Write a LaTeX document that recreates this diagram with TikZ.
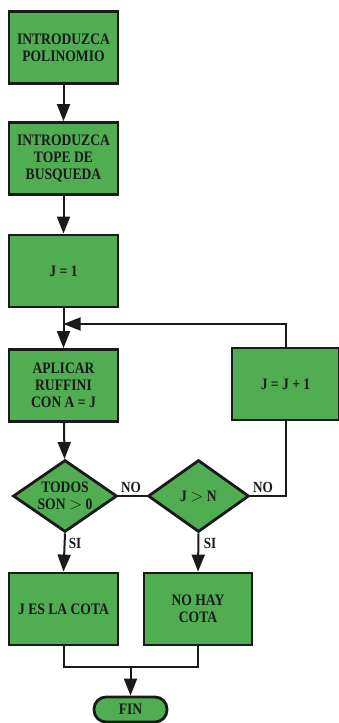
\documentclass[tikz,border=0pt]{standalone}
\usepackage{fontspec}
\setmainfont[FakeStretch=0.85]{Liberation Serif}
\usetikzlibrary{shapes.geometric,arrows.meta}
\definecolor{boxgreen}{RGB}{80,173,82}
\definecolor{ink}{RGB}{26,26,26}
\tikzset{
  stepbox/.style={draw=ink, line width=2.8pt, fill=boxgreen, rectangle,
    inner sep=0pt, minimum width=#1, minimum height=72pt, align=center,
    text=ink, font=\bfseries\fontsize{16}{17}\selectfont},
  stepbox/.default=109pt,
  testbox/.style={draw=ink, line width=2.8pt, fill=boxgreen, diamond,
    shape aspect=1.45, inner sep=0pt, minimum width=#1, minimum height=72pt,
    align=center, text=ink, font=\bfseries\fontsize{16}{17.5}\selectfont},
  endbox/.style={draw=ink, line width=2.8pt, fill=boxgreen, rectangle,
    rounded corners=12pt, inner sep=0pt, minimum width=73pt, minimum height=25pt,
    text=ink, font=\bfseries\fontsize{16}{17}\selectfont},
  link/.style={draw=ink, line width=2pt},
  arr/.style={link, -{Triangle[length=17pt,width=13pt]}},
  tag/.style={text=ink, inner sep=0pt, font=\bfseries\fontsize{15.5}{16}\selectfont}
}
\begin{document}
\begin{tikzpicture}[x=1pt,y=-1pt]
\useasboundingbox (0,0) rectangle (338,723);

% main column
\node[stepbox] (b1) at (63.5,47.5) {INTRODUZCA\\POLINOMIO};
\node[stepbox] (b2) at (63.5,158.5) {INTRODUZCA\\TOPE DE\\BUSQUEDA};
\node[stepbox] (b3) at (63.5,271) {J = 1};
\node[stepbox] (b4) at (63.5,385.5) {APLICAR\\RUFFINI\\CON A = J};
\node[stepbox=107pt] (b5) at (285.5,384) {J = J + 1};

% decisions
\node[testbox=104pt] (d1) at (65,496) {TODOS\\SON $>$ 0};
\node[testbox=101pt] (d2) at (198.5,496) {J $>$ N};

% outcomes
\node[stepbox] (b6) at (63.5,609) {J ES LA COTA};
\node[stepbox=108pt] (b7) at (198,609) {NO HAY\\COTA};
\node[endbox] (fin) at (130.5,709.5) {FIN};

\coordinate (m) at (63.5,324);
\coordinate (j) at (130.5,667);

% connectors
\draw[arr] (b1) -- (b2);
\draw[arr] (b2) -- (b3);
\draw[link] (b3.south) -- (m);
\draw[arr] (m) -- (b4.north);
\draw[arr] (b5.north) |- (m);
\draw[arr] (b4) -- (d1);
\draw[link] (d1.east) -- (d2.west);
\draw[link] (d2.east) -| (b5.south);
\draw[arr] (d1.south) -- (b6.north);
\draw[arr] (d2.south) -- (b7.north);
\draw[link] (b6.south) |- (j) -| (b7.south);
\draw[arr] (j) -- (fin.north);

% branch labels
\node[tag] (no1) at (131,487) {NO};
\node[tag] (no2) at (263,487) {NO};
\node[tag] (si1) at (75,543) {SI};
\node[tag] (si2) at (210,543) {SI};
\end{tikzpicture}
\end{document}
